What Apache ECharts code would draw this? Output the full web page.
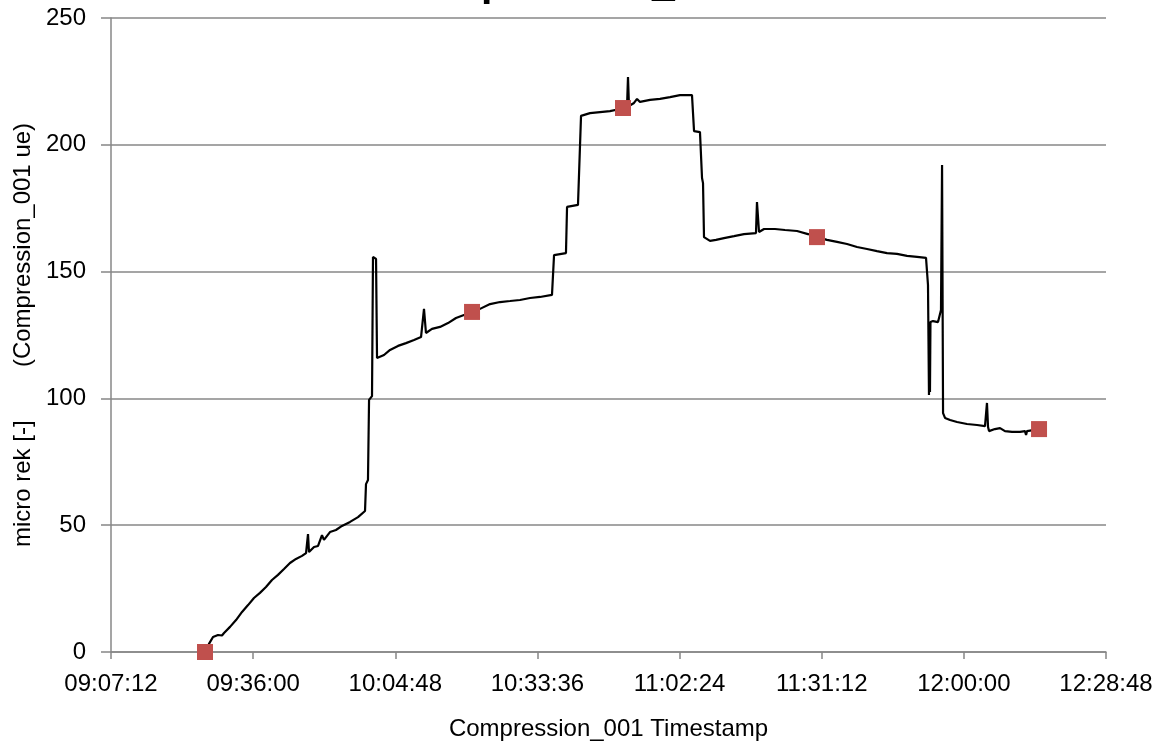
<!DOCTYPE html>
<html>
<head>
<meta charset="utf-8">
<title>Compression_001</title>
<script src="https://cdn.jsdelivr.net/npm/echarts@6/dist/echarts.min.js"></script>
<style>
  html, body { margin: 0; padding: 0; background: #ffffff; }
  #chart { width: 1167px; height: 746px; }
</style>
</head>
<body>
<div id="chart"></div>
<script>
// Strain gauge log: timestamp (hh:mm:ss) and micro strain reading
const timestamps = [
  '09:26:27','09:27:03','09:27:52','09:28:53','09:29:41','09:30:06','09:31:19','09:32:32','09:33:45','09:34:58',
  '09:36:10','09:37:23','09:38:36','09:39:49','09:41:02','09:42:15','09:43:28','09:44:41','09:45:54','09:46:43',
  '09:47:07','09:47:19','09:48:20','09:49:09','09:49:57','09:50:21','09:51:34','09:52:47','09:54:00','09:55:38',
  '09:57:15','09:58:40','09:58:52','09:59:16','09:59:29','10:00:05','10:00:17','10:00:54','10:01:06','10:02:31',
  '10:03:44','10:05:21','10:06:58','10:08:36','10:10:01','10:10:37','10:11:01','10:12:14','10:13:52','10:15:29',
  '10:17:06','10:18:43','10:20:21','10:21:58','10:24:00','10:26:01','10:28:03','10:30:04','10:32:06','10:34:07',
  '10:36:33','10:36:58','10:39:23','10:39:36','10:41:49','10:42:26','10:44:15','10:46:17','10:48:18','10:50:20',
  '10:51:45','10:51:57','10:52:09','10:53:10','10:53:47','10:54:23','10:56:25','10:58:26','11:00:28','11:02:29',
  '11:04:55','11:05:20','11:06:32','11:06:57','11:07:09','11:07:21','11:08:34','11:09:47','11:11:24','11:13:26',
  '11:15:27','11:17:53','11:18:05','11:18:30','11:19:31','11:21:44','11:23:46','11:26:12','11:28:25','11:30:15',
  '11:32:16','11:34:18','11:36:20','11:38:21','11:40:23','11:42:24','11:44:26','11:46:27','11:48:29','11:50:31',
  '11:52:20','11:52:44','11:52:56','11:53:02','11:53:08','11:53:14','11:53:45','11:54:46','11:55:22','11:55:35',
  '11:55:47','11:56:11','11:57:12','11:58:37','12:00:38','12:02:40','12:04:17','12:04:41','12:04:54','12:05:06',
  '12:06:17','12:07:20','12:08:20','12:09:45','12:11:23','12:12:23','12:12:36','12:12:48','12:14:01'
];
const microStrain = [
  0.4, 3.2, 5.9, 6.7, 6.5, 7.5, 9.9, 12.6, 15.8, 18.5,
  21.3, 23.3, 25.6, 28.4, 30.4, 32.7, 35.1, 36.7, 37.9, 39.0,
  46.5, 39.4, 41.4, 41.8, 46.1, 44.2, 47.3, 48.1, 49.7, 51.3,
  53.2, 55.6, 66.2, 67.8, 99.4, 100.9, 155.8, 155.0, 115.9, 117.1,
  119.1, 120.7, 121.8, 123.0, 124.2, 135.3, 125.8, 127.4, 128.2, 129.7,
  131.7, 132.9, 133.7, 135.3, 137.2, 138.0, 138.4, 138.8, 139.6, 140.0,
  140.8, 156.5, 157.3, 175.5, 176.3, 211.4, 212.5, 212.9, 213.3, 214.1,
  214.9, 226.7, 215.3, 216.5, 218.1, 216.9, 217.7, 218.1, 218.8, 219.6,
  219.6, 205.4, 205.0, 186.9, 184.9, 163.6, 162.1, 162.5, 163.2, 164.0,
  164.8, 165.2, 177.4, 165.6, 166.8, 166.8, 166.4, 166.0, 164.8, 163.6,
  162.5, 161.7, 160.9, 159.7, 158.9, 158.1, 157.3, 157.0, 156.2, 155.8,
  155.4, 144.7, 101.3, 129.5, 102.5, 130.1, 130.5, 130.1, 134.9, 192.0,
  94.2, 92.3, 91.5, 90.7, 89.9, 89.5, 89.1, 98.2, 88.7, 87.1,
  87.9, 88.3, 87.1, 86.8, 86.8, 87.1, 85.6, 87.1, 87.5
];

// Sampled check points drawn as square markers
const markerTimes = ['09:26:15', '10:20:21', '10:50:56', '11:30:15', '12:15:14'];
const markerValues = [0, 134.1, 214.5, 163.6, 87.9];

// Axis range and tick spacing
const xStart = '09:07:12';
const xEnd = '12:28:48';
const xStep = '00:28:48';
const yMin = 0, yMax = 250, yStep = 50;

const toSec = s => {
  const p = s.split(':').map(Number);
  return p[0] * 3600 + p[1] * 60 + p[2];
};
const pad = n => String(n).padStart(2, '0');
const toClock = v => {
  const s = Math.round(v);
  return pad(Math.floor(s / 3600)) + ':' + pad(Math.floor((s % 3600) / 60)) + ':' + pad(s % 60);
};

const lineData = timestamps.map((t, i) => [toSec(t), microStrain[i]]);
const markerData = markerTimes.map((t, i) => [toSec(t), markerValues[i]]);

const FONT = 'Liberation Sans';
const GRID_GRAY = '#878787';

const chart = echarts.init(document.getElementById('chart'), null, { renderer: 'canvas' });
chart.setOption({
  animation: false,
  backgroundColor: '#ffffff',
  title: {
    text: 'Compression_001',
    left: 385,
    top: -41,
    textStyle: { fontFamily: FONT, fontSize: 41, fontWeight: 'bold', color: '#000000' }
  },
  grid: { left: 111, right: 61, top: 18, bottom: 94, containLabel: false },
  xAxis: {
    type: 'value',
    min: toSec(xStart),
    max: toSec(xEnd),
    interval: toSec(xStep),
    name: 'Compression_001 Timestamp',
    nameLocation: 'middle',
    nameGap: 65,
    nameTextStyle: { fontFamily: FONT, fontSize: 24, color: '#000000' },
    axisLine: { show: true, onZero: false, lineStyle: { color: GRID_GRAY, width: 1.5 } },
    axisTick: { show: true, inside: false, length: 7, lineStyle: { color: GRID_GRAY, width: 1.5 } },
    axisLabel: {
      fontFamily: FONT, fontSize: 24, color: '#000000', margin: 20,
      formatter: v => toClock(v)
    },
    splitLine: { show: false }
  },
  yAxis: {
    type: 'value',
    min: yMin,
    max: yMax,
    interval: yStep,
    name: 'micro rek [-]        (Compression_001 ue)',
    nameLocation: 'middle',
    nameGap: 74,
    nameTextStyle: { fontFamily: FONT, fontSize: 24, color: '#000000' },
    axisLine: { show: true, lineStyle: { color: GRID_GRAY, width: 1.5 } },
    axisTick: { show: true, inside: false, length: 10, lineStyle: { color: GRID_GRAY, width: 1.5 } },
    axisLabel: { fontFamily: FONT, fontSize: 24, color: '#000000', margin: 25 },
    splitLine: { show: true, lineStyle: { color: GRID_GRAY, width: 1.5 } }
  },
  series: [
    {
      name: 'Compression_001',
      type: 'line',
      data: lineData,
      showSymbol: false,
      symbol: 'none',
      lineStyle: { color: '#000000', width: 2.2 },
      z: 2
    },
    {
      name: 'check',
      type: 'scatter',
      data: markerData,
      symbol: 'rect',
      symbolSize: 16,
      itemStyle: { color: '#C0504D', opacity: 1 },
      z: 3
    }
  ]
});
</script>
</body>
</html>
